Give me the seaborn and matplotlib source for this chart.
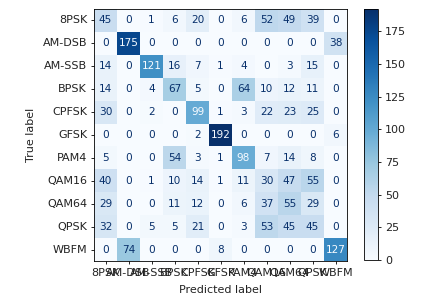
import numpy as np
import matplotlib
matplotlib.use("Agg")
import matplotlib.pyplot as plt
import seaborn as sns

labels = ["8PSK", "AM-DSB", "AM-SSB", "BPSK", "CPFSK", "GFSK", "PAM4", "QAM16", "QAM64", "QPSK", "WBFM"]
row_8psk  = [45, 0, 1, 6, 20, 0, 6, 52, 49, 39, 0]
row_amdsb = [0, 175, 0, 0, 0, 0, 0, 0, 0, 0, 38]
row_amssb = [14, 0, 121, 16, 7, 1, 4, 0, 3, 15, 0]
row_bpsk  = [14, 0, 4, 67, 5, 0, 64, 10, 12, 11, 0]
row_cpfsk = [30, 0, 2, 0, 99, 1, 3, 22, 23, 25, 0]
row_gfsk  = [0, 0, 0, 0, 2, 192, 0, 0, 0, 0, 6]
row_pam4  = [5, 0, 0, 54, 3, 1, 98, 7, 14, 8, 0]
row_qam16 = [40, 0, 1, 10, 14, 1, 11, 30, 47, 55, 0]
row_qam64 = [29, 0, 0, 11, 12, 0, 6, 37, 55, 29, 0]
row_qpsk  = [32, 0, 5, 5, 21, 0, 3, 53, 45, 45, 0]
row_wbfm  = [0, 74, 0, 0, 0, 8, 0, 0, 0, 0, 127]

cm = np.array([row_8psk, row_amdsb, row_amssb, row_bpsk, row_cpfsk, row_gfsk,
               row_pam4, row_qam16, row_qam64, row_qpsk, row_wbfm])

FS = 8
fig = plt.figure(figsize=(4.23, 3.08), dpi=100)
ax = fig.add_axes([94/423, 47/308, 253/423, 252/308])
cax = fig.add_axes([364/423, 48/308, 14/423, 251/308])

cmap = plt.get_cmap("Blues")
sns.heatmap(cm, ax=ax, cbar_ax=cax, cmap=cmap, vmin=cm.min(), vmax=cm.max(),
            annot=False, xticklabels=labels, yticklabels=labels, linewidths=0)

thresh = (cm.max() + cm.min()) / 2.0
for i in range(cm.shape[0]):
    for j in range(cm.shape[1]):
        v = cm[i, j]
        color = cmap(0.0) if v >= thresh else cmap(1.0)
        ax.text(j + 0.5, i + 0.5, str(v), ha="center", va="center", color=color, fontsize=7.6)

for s in ax.spines.values():
    s.set_visible(True)
    s.set_linewidth(0.6)
    s.set_color("black")
ax.tick_params(axis="both", length=2.5, width=0.6, pad=2.5, labelsize=FS, labelcolor="#222222")
ax.set_xticklabels(labels, rotation=0)
ax.set_yticklabels(labels, rotation=0)
ax.set_xlabel("Predicted label", fontsize=FS, labelpad=5, color="#222222")
ax.set_ylabel("True label", fontsize=FS, labelpad=5, color="#222222")

cax.set_yticks([0, 25, 50, 75, 100, 125, 150, 175])
cax.tick_params(length=2.5, width=0.6, pad=2.5, labelsize=FS, labelcolor="#222222")
cb = ax.collections[0].colorbar
cb.outline.set_visible(True)
cb.outline.set_linewidth(0.6)
cb.outline.set_edgecolor("black")

fig.savefig("out.png", dpi=100)
